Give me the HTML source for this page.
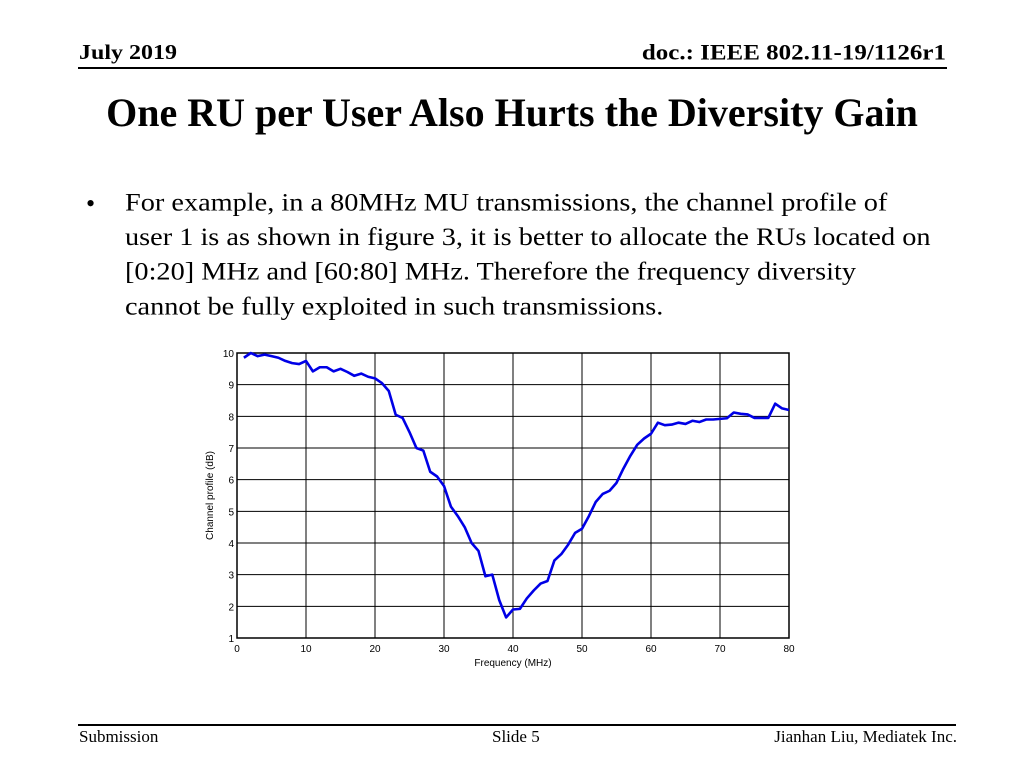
<!DOCTYPE html>
<html><head><meta charset="utf-8"><style>
body{margin:0;width:1024px;height:768px;background:#fff;position:relative;overflow:hidden;font-family:"Liberation Serif",serif;}
.a{position:absolute;white-space:nowrap;}
</style></head><body>
<div class="a" style="left:79px;top:41px;font-size:24px;font-weight:bold;transform:scaleY(0.9);transform-origin:left top;">July 2019</div>
<div class="a" style="right:78px;top:41px;font-size:25px;font-weight:bold;transform:scaleY(0.88);transform-origin:right top;">doc.: IEEE 802.11-19/1126r1</div>
<div class="a" style="left:78px;top:67px;width:869px;height:1.5px;background:#000;"></div>
<div class="a" style="left:0;width:1024px;text-align:center;top:89px;font-size:40px;font-weight:bold;">One RU per User Also Hurts the Diversity Gain</div>
<div class="a" style="left:86px;top:189px;font-size:26px;">•</div>
<div class="a" style="left:125px;top:186px;font-size:28.3px;line-height:39.2px;white-space:nowrap;transform:scaleY(0.88);transform-origin:left top;">For example, in a 80MHz MU transmissions, the channel profile of<br>user 1 is as shown in figure 3, it is better to allocate the RUs located on<br>[0:20] MHz and [60:80] MHz. Therefore the frequency diversity<br>cannot be fully exploited in such transmissions.</div>
<svg class="a" style="left:0;top:0" width="1024" height="768" id="chart"></svg>
<div class="a" style="left:78px;top:724px;width:878px;height:1.5px;background:#000;"></div>
<div class="a" style="left:79px;top:727px;font-size:17px;">Submission</div>
<div class="a" style="left:492px;top:727px;font-size:17px;">Slide 5</div>
<div class="a" style="right:67px;top:727px;font-size:17px;">Jianhan Liu, Mediatek Inc.</div>
<script>
const freqs=[1,2,3,4,5,6,7,8,9,10,11,12,13,14,15,16,17,18,19,20,21,22,23,24,25,26,27,28,29,30,31,32,33,34,35,36,37,38,39,40,41,42,43,44,45,46,47,48,49,50,51,52,53,54,55,56,57,58,59,60,61,62,63,64,65,66,67,68,69,70,71,72,73,74,75,76,77,78,79,80];
const profile=[9.85,10.0,9.9,9.95,9.9,9.85,9.75,9.68,9.65,9.75,9.42,9.55,9.55,9.42,9.5,9.4,9.28,9.35,9.25,9.2,9.05,8.8,8.05,7.95,7.5,7.0,6.92,6.25,6.1,5.8,5.15,4.85,4.5,4.0,3.75,2.95,3.0,2.2,1.65,1.9,1.92,2.25,2.5,2.72,2.8,3.45,3.65,3.95,4.32,4.45,4.85,5.3,5.55,5.65,5.9,6.35,6.75,7.1,7.3,7.45,7.8,7.72,7.74,7.8,7.76,7.86,7.82,7.9,7.9,7.92,7.94,8.12,8.08,8.06,7.95,7.95,7.95,8.4,8.25,8.2];
const xTicks=[0,10,20,30,40,50,60,70,80];
const yTicks=[1,2,3,4,5,6,7,8,9,10];
const NS="http://www.w3.org/2000/svg";
const svg=document.getElementById('chart');
const X0=237,X1=789,Y0=638,Y1=353;
const xs=v=>X0+(v-0)/80*(X1-X0);
const ys=v=>Y0-(v-1)/9*(Y0-Y1);
function mk(t,a,p){const e=document.createElementNS(NS,t);for(const k in a)e.setAttribute(k,a[k]);(p||svg).appendChild(e);return e;}
xTicks.forEach(t=>{
 const l=mk('line',{x1:xs(t),x2:xs(t),y1:Y1,y2:Y0,stroke:'#000','stroke-width':1});
 
 
 const tx=mk('text',{x:xs(t),y:Y0+14,'font-size':10,'font-family':'Liberation Sans, sans-serif','text-anchor':'middle'});
 tx.textContent=t;
 
 
});
yTicks.forEach(t=>{
 const l=mk('line',{x1:X0,x2:X1,y1:ys(t),y2:ys(t),stroke:'#000','stroke-width':1});
 
 
 const tx=mk('text',{x:X0-3,y:ys(t)+4,'font-size':10,'font-family':'Liberation Sans, sans-serif','text-anchor':'end'});
 tx.textContent=t;
 
 
});
const fr=mk('rect',{x:X0,y:Y1,width:X1-X0,height:Y0-Y1,fill:'none',stroke:'#000','stroke-width':1.5});


const pl=mk('polyline',{points:freqs.map((f,i)=>xs(f)+','+ys(profile[i])).join(' '),fill:'none',stroke:'#0000e6','stroke-width':2.6,'stroke-linejoin':'round'});


const xt=mk('text',{x:(X0+X1)/2,y:666,'font-size':10,'font-family':'Liberation Sans, sans-serif','text-anchor':'middle'});
xt.textContent='Frequency (MHz)';


const yt=mk('text',{x:0,y:0,'font-size':10,'font-family':'Liberation Sans, sans-serif','text-anchor':'middle',transform:'translate(213,'+((Y0+Y1)/2)+') rotate(-90)'});
yt.textContent='Channel profile (dB)';


</script>
</body></html>
